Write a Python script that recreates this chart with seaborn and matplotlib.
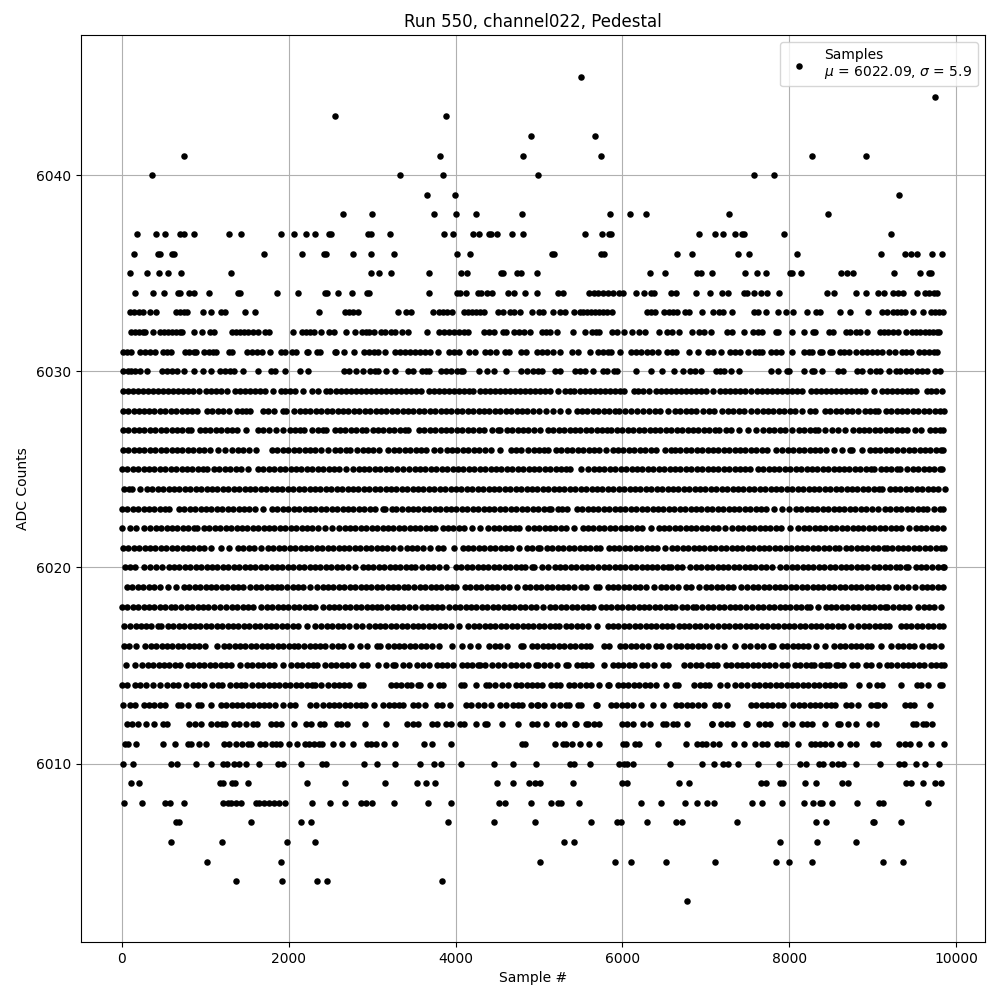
import pandas as pd
import seaborn as sns
import matplotlib.pyplot as plt

# sample positions, one list per ADC level
x_6045 = [5508]
x_6044 = [9746]
x_6043 = [2554, 3886]
x_6042 = [4906, 5676]
x_6041 = [742, 3814, 4810, 5748, 8273, 8920]
x_6040 = [358, 3334, 3850, 4986, 7579, 7819]
x_6039 = [3658, 3994, 9315]
x_6038 = [2650, 2998, 3742, 4006, 4246, 4798, 5856, 6095, 6287, 7280, 8465]
x_6037 = [178, 406, 514, 702, 742, 862, 1282, 1426, 1906, 2062, 2206, 2314, 2478, 2510, 2950, 2982, 3214, 3862, 3970,
          4210, 4282, 4402, 4430, 4502, 4678, 4810, 5556, 5760, 5836, 5864, 6921, 7112, 7208, 7352, 7432, 7460, 7938, 9219]
x_6036 = [142, 438, 462, 606, 630, 1702, 2158, 2422, 2450, 2770, 2986, 3262, 4018, 4174, 5153, 5177, 5748, 5776, 6658,
          6837, 7388, 7520, 8094, 9100, 9387, 9459, 9531, 9710, 9830]
x_6035 = [94, 298, 442, 550, 706, 1306, 2986, 3082, 3226, 3682, 4066, 4142, 4538, 4570, 4730, 4782, 4974, 6334, 6514,
          6897, 6945, 7077, 7472, 7615, 7723, 8006, 8030, 8142, 8621, 8692, 8764, 9255, 9566, 9674, 9702]
x_6034 = [154, 370, 502, 670, 694, 802, 862, 1042, 1390, 1410, 1858, 2110, 2430, 2462, 2590, 2758, 2934, 2958, 3682,
          4018, 4054, 4126, 4270, 4306, 4382, 4438, 4630, 4702, 4834, 4974, 5233, 5293, 5604, 5664, 5712, 5772, 5832,
          5884, 5955, 6011, 6167, 6263, 6346, 6374, 6586, 6642, 6885, 7053, 7196, 7268, 7460, 7496, 7579, 7663, 7735,
          7879, 8453, 8537, 8800, 8920, 9064, 9136, 9243, 9303, 9363, 9530, 9626, 9674, 9734, 9770]
x_6033 = [94, 142, 202, 250, 334, 406, 646, 694, 742, 778, 970, 1066, 1186, 1234, 1474, 1594, 2362, 2674, 2722, 2770,
          2830, 3310, 3406, 3466, 3730, 3802, 3850, 3902, 3962, 4102, 4150, 4198, 4246, 4294, 4342, 4510, 4562, 4654,
          4702, 4774, 4914, 5002, 5045, 5165, 5257, 5317, 5413, 5485, 5532, 5580, 5628, 5676, 5724, 5772, 5820, 5880,
          6298, 6346, 6390, 6502, 6562, 6610, 6658, 6754, 6802, 6957, 7089, 7160, 7208, 7316, 7579, 7627, 7723, 7867,
          7962, 8046, 8214, 8322, 8370, 8609, 8729, 8944, 9112, 9172, 9243, 9291, 9339, 9387, 9483, 9602, 9698, 9746,
          9794, 9842]
x_6032 = [106, 154, 202, 250, 282, 370, 454, 502, 550, 598, 646, 694, 722, 862, 958, 1054, 1102, 1318, 1366, 1414,
          1462, 1510, 1570, 1630, 1714, 1762, 2050, 2158, 2206, 2254, 2302, 2382, 2482, 2542, 2686, 2794, 2882, 2930,
          2962, 3022, 3102, 3150, 3222, 3270, 3354, 3430, 3658, 3802, 3862, 3922, 3982, 4042, 4102, 4150, 4342, 4402,
          4462, 4562, 4602, 4702, 4762, 4822, 4894, 5034, 5081, 5133, 5221, 5401, 5556, 5640, 5680, 5724, 5880, 5940,
          6023, 6119, 6203, 6270, 6442, 6538, 6590, 6682, 6837, 6921, 6981, 7065, 7256, 7316, 7460, 7567, 7627, 7675,
          7840, 7868, 8034, 8178, 8285, 8310, 8477, 8525, 8676, 8724, 8796, 8844, 8932, 9088, 9136, 9184, 9243, 9303,
          9399, 9474, 9522, 9570, 9626, 9674, 9722, 9770, 9794]
x_6031 = [12, 62, 112, 220, 275, 335, 392, 492, 545, 592, 752, 810, 860, 892, 980, 1040, 1095, 1132, 1284, 1320, 1504,
          1560, 1620, 1680, 1772, 1904, 1952, 2044, 2092, 2220, 2232, 2340, 2372, 2552, 2572, 2662, 2778, 2904, 2960,
          3020, 3072, 3154, 3272, 3330, 3390, 3450, 3510, 3570, 3630, 3690, 3784, 3920, 3980, 4040, 4160, 4232, 4352,
          4410, 4484, 4592, 4640, 4784, 4844, 4972, 5030, 5090, 5163, 5253, 5395, 5471, 5616, 5710, 5770, 5830, 5862,
          5971, 6101, 6160, 6220, 6290, 6350, 6420, 6532, 6590, 6640, 6800, 6907, 7030, 7090, 7186, 7286, 7350, 7410,
          7507, 7590, 7640, 7677, 7781, 7840, 7897, 8030, 8176, 8230, 8276, 8368, 8396, 8488, 8515, 8603, 8660, 8720,
          8794, 8874, 8930, 8990, 9050, 9110, 9193, 9271, 9345, 9400, 9460, 9552, 9610, 9670, 9730, 9764]
x_6030 = [12, 70, 104, 160, 220, 304, 480, 540, 600, 660, 744, 862, 970, 1070, 1172, 1230, 1290, 1344, 1446, 1630, 1792,
          1832, 1954, 2132, 2232, 2664, 2720, 2812, 2890, 2972, 3030, 3072, 3166, 3274, 3432, 3492, 3592, 3650, 3684,
          3820, 3880, 3940, 4012, 4070, 4092, 4282, 4372, 4464, 4602, 4784, 4852, 4932, 4992, 5032, 5191, 5251, 5431,
          5490, 5550, 5642, 5764, 5820, 5902, 5933, 6159, 6340, 6468, 6618, 6721, 6807, 6870, 6939, 7119, 7170, 7218,
          7300, 7400, 7775, 7859, 7968, 7996, 8178, 8268, 8296, 8393, 8587, 8646, 8814, 8870, 8966, 9034, 9090, 9193,
          9273, 9330, 9400, 9453, 9532, 9590, 9644, 9740, 9800]
x_6029 = [12, 70, 130, 190, 250, 310, 370, 430, 490, 550, 610, 670, 730, 790, 850, 924, 1012, 1070, 1130, 1190, 1260,
          1360, 1420, 1480, 1540, 1600, 1660, 1720, 1812, 1904, 1960, 2020, 2080, 2172, 2280, 2352, 2452, 2492, 2572,
          2630, 2690, 2750, 2810, 2870, 2930, 2990, 3050, 3110, 3170, 3230, 3290, 3350, 3410, 3470, 3530, 3584, 3680,
          3740, 3800, 3860, 3920, 3980, 4040, 4100, 4160, 4212, 4292, 4350, 4410, 4470, 4530, 4590, 4650, 4710, 4770,
          4830, 4890, 4950, 5010, 5070, 5130, 5231, 5311, 5370, 5423, 5495, 5555, 5615, 5675, 5735, 5795, 5855, 5915,
          5975, 6021, 6133, 6190, 6250, 6320, 6400, 6460, 6520, 6580, 6640, 6700, 6760, 6820, 6880, 6940, 7000, 7086,
          7166, 7226, 7286, 7346, 7406, 7466, 7545, 7617, 7677, 7737, 7797, 7857, 7917, 7977, 8037, 8097, 8156, 8256,
          8316, 8376, 8436, 8496, 8556, 8616, 8676, 8736, 8796, 8856, 8902, 9016, 9106, 9166, 9226, 9286, 9346, 9406,
          9453, 9522, 9644, 9700, 9760, 9832]
x_6028 = [12, 75, 140, 200, 265, 330, 390, 455, 520, 585, 650, 715, 780, 845, 904, 1020, 1085, 1150, 1215, 1280, 1380,
          1445, 1490, 1532, 1692, 1755, 1824, 1932, 1972, 2064, 2130, 2195, 2260, 2325, 2390, 2455, 2520, 2585, 2650,
          2715, 2780, 2845, 2910, 2975, 3040, 3105, 3170, 3235, 3300, 3365, 3430, 3495, 3560, 3625, 3690, 3755, 3820,
          3885, 3950, 4015, 4080, 4145, 4210, 4275, 4340, 4405, 4470, 4535, 4600, 4665, 4730, 4795, 4860, 4924, 4996,
          5084, 5163, 5251, 5351, 5451, 5515, 5580, 5645, 5710, 5775, 5840, 5905, 5961, 6033, 6100, 6170, 6240, 6320,
          6385, 6450, 6540, 6628, 6695, 6760, 6825, 6879, 6971, 7040, 7098, 7198, 7265, 7330, 7395, 7460, 7537, 7617,
          7680, 7745, 7810, 7875, 7940, 8005, 8070, 8156, 8248, 8308, 8427, 8490, 8555, 8620, 8685, 8750, 8822, 8902,
          8965, 9030, 9066, 9154, 9220, 9285, 9350, 9415, 9480, 9545, 9610, 9675, 9740, 9805, 9852]
x_6027 = [12, 75, 140, 205, 270, 335, 400, 465, 530, 595, 660, 725, 790, 824, 932, 995, 1060, 1125, 1190, 1255, 1320,
          1385, 1484, 1632, 1695, 1760, 1852, 1932, 2012, 2075, 2140, 2184, 2280, 2345, 2410, 2452, 2552, 2615, 2680,
          2745, 2810, 2875, 2924, 3004, 3070, 3135, 3200, 3265, 3330, 3395, 3432, 3560, 3625, 3690, 3755, 3820, 3885,
          3950, 4015, 4080, 4145, 4210, 4275, 4340, 4432, 4512, 4532, 4612, 4677, 4742, 4807, 4872, 4937, 5016, 5104,
          5170, 5235, 5300, 5365, 5430, 5495, 5560, 5625, 5690, 5755, 5820, 5862, 5933, 6000, 6065, 6130, 6195, 6260,
          6325, 6390, 6455, 6520, 6585, 6650, 6715, 6780, 6845, 6910, 6975, 7040, 7105, 7158, 7238, 7300, 7402, 7510,
          7597, 7689, 7755, 7820, 7885, 7950, 8036, 8116, 8180, 8245, 8310, 8343, 8429, 8507, 8583, 8673, 8766, 8830,
          8895, 8960, 9025, 9090, 9155, 9220, 9285, 9350, 9415, 9501, 9578, 9680, 9745, 9810, 9844]
x_6026 = [12, 75, 140, 205, 270, 335, 400, 465, 530, 595, 660, 725, 790, 855, 920, 985, 1052, 1152, 1232, 1324, 1390,
          1455, 1520, 1604, 1800, 1865, 1930, 1995, 2060, 2125, 2190, 2255, 2320, 2385, 2472, 2552, 2617, 2682, 2732,
          2820, 2885, 2950, 3015, 3080, 3184, 3260, 3325, 3390, 3455, 3520, 3585, 3650, 3744, 3814, 3892, 3957, 4022,
          4087, 4152, 4217, 4282, 4347, 4424, 4530, 4660, 4725, 4784, 4872, 4935, 4998, 5060, 5111, 5203, 5268, 5333,
          5398, 5463, 5528, 5593, 5658, 5723, 5802, 5882, 5947, 6012, 6077, 6142, 6207, 6272, 6337, 6402, 6508, 6580,
          6625, 6687, 6759, 6824, 6889, 6954, 7019, 7084, 7149, 7214, 7279, 7344, 7409, 7474, 7539, 7604, 7669, 7734,
          7837, 7917, 7982, 8047, 8112, 8177, 8242, 8307, 8372, 8437, 8535, 8633, 8722, 8754, 8872, 8962, 9027, 9092,
          9157, 9222, 9293, 9365, 9430, 9495, 9560, 9625, 9684, 9752, 9817, 9844]
x_6025 = [0, 65, 130, 195, 260, 325, 390, 452, 520, 585, 650, 715, 780, 845, 910, 975, 1024, 1104, 1170, 1235, 1300,
          1365, 1432, 1514, 1632, 1697, 1762, 1827, 1892, 1957, 2022, 2087, 2152, 2217, 2282, 2347, 2412, 2477, 2542,
          2607, 2692, 2772, 2837, 2902, 2967, 3032, 3097, 3162, 3227, 3292, 3372, 3444, 3509, 3574, 3639, 3704, 3769,
          3834, 3899, 3964, 4029, 4094, 4159, 4224, 4289, 4354, 4419, 4484, 4549, 4614, 4679, 4744, 4809, 4874, 4939,
          5004, 5069, 5134, 5199, 5264, 5329, 5375, 5503, 5582, 5654, 5719, 5784, 5849, 5914, 5979, 6044, 6109, 6174,
          6239, 6304, 6369, 6434, 6499, 6564, 6629, 6694, 6759, 6824, 6889, 6954, 7019, 7084, 7149, 7214, 7279, 7344,
          7409, 7474, 7529, 7621, 7686, 7751, 7816, 7881, 7946, 8011, 8076, 8141, 8206, 8271, 8336, 8401, 8466, 8531,
          8596, 8661, 8714, 8786, 8851, 8916, 8981, 9014, 9094, 9159, 9224, 9289, 9325, 9413, 9478, 9543, 9608, 9673,
          9738, 9803, 9832]
x_6024 = [20, 85, 118, 212, 300, 365, 430, 495, 560, 625, 690, 755, 820, 885, 950, 1015, 1080, 1145, 1210, 1275, 1340,
          1405, 1470, 1535, 1600, 1665, 1730, 1795, 1860, 1925, 1990, 2055, 2120, 2185, 2250, 2315, 2380, 2445, 2510,
          2575, 2640, 2705, 2770, 2835, 2900, 2965, 3030, 3095, 3160, 3225, 3290, 3355, 3420, 3485, 3550, 3615, 3680,
          3745, 3810, 3875, 3940, 4005, 4070, 4135, 4200, 4265, 4330, 4395, 4460, 4525, 4590, 4655, 4720, 4785, 4850,
          4915, 4980, 5045, 5110, 5175, 5240, 5305, 5370, 5435, 5500, 5565, 5630, 5695, 5760, 5825, 5890, 5955, 6020,
          6085, 6150, 6215, 6280, 6345, 6410, 6475, 6540, 6605, 6670, 6735, 6800, 6865, 6930, 6995, 7060, 7125, 7190,
          7255, 7320, 7385, 7450, 7515, 7580, 7645, 7710, 7775, 7840, 7905, 7970, 8035, 8100, 8165, 8230, 8295, 8360,
          8425, 8490, 8555, 8620, 8685, 8750, 8815, 8880, 8945, 9010, 9075, 9113, 9201, 9266, 9331, 9396, 9461, 9526,
          9591, 9656, 9721, 9786, 9860]
x_6023 = [0, 65, 130, 195, 260, 325, 390, 455, 520, 560, 684, 749, 814, 879, 944, 1009, 1074, 1139, 1204, 1269, 1334,
          1399, 1464, 1529, 1594, 1692, 1800, 1865, 1930, 1995, 2060, 2125, 2190, 2255, 2320, 2385, 2450, 2515, 2580,
          2645, 2710, 2775, 2840, 2905, 2970, 3032, 3132, 3152, 3236, 3284, 3360, 3425, 3490, 3555, 3620, 3685, 3750,
          3815, 3880, 3945, 4010, 4075, 4140, 4205, 4270, 4335, 4400, 4465, 4530, 4595, 4660, 4725, 4790, 4855, 4924,
          4989, 5054, 5119, 5143, 5233, 5271, 5331, 5451, 5516, 5581, 5646, 5711, 5776, 5841, 5906, 5971, 6036, 6101,
          6166, 6231, 6296, 6361, 6426, 6491, 6556, 6621, 6686, 6751, 6816, 6881, 6946, 7011, 7076, 7141, 7206, 7271,
          7336, 7401, 7466, 7531, 7596, 7661, 7726, 7817, 7908, 7996, 8076, 8141, 8206, 8271, 8336, 8401, 8466, 8531,
          8596, 8661, 8726, 8791, 8856, 8921, 8994, 9064, 9146, 9211, 9276, 9341, 9406, 9471, 9536, 9601, 9644, 9736,
          9800, 9844]
x_6022 = [0, 92, 172, 264, 340, 405, 470, 535, 600, 665, 730, 795, 860, 900, 984, 1049, 1114, 1179, 1244, 1309, 1374,
          1439, 1504, 1569, 1634, 1699, 1764, 1829, 1894, 1959, 2024, 2089, 2154, 2219, 2284, 2349, 2432, 2522, 2604,
          2669, 2734, 2799, 2864, 2929, 2994, 3059, 3124, 3189, 3254, 3319, 3384, 3449, 3514, 3579, 3644, 3709, 3752,
          3844, 3909, 3974, 4039, 4104, 4200, 4294, 4392, 4457, 4522, 4587, 4652, 4717, 4760, 4872, 4937, 5002, 5067,
          5132, 5197, 5262, 5327, 5423, 5522, 5587, 5652, 5717, 5782, 5847, 5912, 5977, 6042, 6107, 6172, 6237, 6340,
          6432, 6497, 6562, 6627, 6692, 6757, 6822, 6887, 6952, 7017, 7082, 7147, 7226, 7318, 7383, 7448, 7513, 7578,
          7643, 7708, 7773, 7838, 7903, 8008, 8108, 8173, 8238, 8303, 8368, 8433, 8498, 8563, 8628, 8693, 8758, 8823,
          8888, 8953, 9018, 9083, 9148, 9213, 9278, 9343, 9433, 9513, 9578, 9643, 9708, 9773, 9844]
x_6021 = [12, 77, 142, 207, 272, 337, 402, 467, 532, 597, 662, 727, 792, 857, 922, 987, 1072, 1192, 1280, 1392, 1457,
          1522, 1587, 1672, 1752, 1817, 1882, 1947, 2012, 2077, 2142, 2207, 2272, 2337, 2402, 2467, 2532, 2597, 2662,
          2727, 2792, 2857, 2922, 2987, 3052, 3117, 3182, 3247, 3332, 3412, 3477, 3542, 3607, 3692, 3784, 3849, 3984,
          4084, 4149, 4214, 4279, 4344, 4409, 4474, 4539, 4604, 4669, 4760, 4852, 4917, 4982, 5016, 5096, 5161, 5226,
          5291, 5356, 5421, 5486, 5551, 5616, 5681, 5734, 5834, 5899, 5964, 6029, 6094, 6159, 6224, 6289, 6354, 6419,
          6512, 6592, 6657, 6722, 6787, 6852, 6917, 6982, 7047, 7112, 7177, 7242, 7307, 7372, 7437, 7502, 7567, 7632,
          7697, 7762, 7827, 7892, 7957, 8022, 8087, 8152, 8217, 8282, 8347, 8412, 8477, 8542, 8595, 8675, 8740, 8805,
          8870, 8935, 9000, 9065, 9130, 9165, 9233, 9298, 9363, 9428, 9493, 9558, 9623, 9688, 9753, 9818, 9852]
x_6020 = [32, 97, 162, 264, 340, 405, 480, 560, 625, 690, 755, 820, 885, 950, 1015, 1080, 1145, 1210, 1275, 1340, 1405,
          1470, 1535, 1600, 1665, 1730, 1795, 1860, 1925, 1990, 2055, 2120, 2185, 2250, 2315, 2380, 2445, 2510, 2575,
          2640, 2705, 2792, 2884, 2949, 3014, 3079, 3144, 3209, 3274, 3339, 3404, 3469, 3512, 3600, 3665, 3730, 3795,
          3880, 4004, 4069, 4134, 4199, 4264, 4329, 4394, 4459, 4524, 4589, 4654, 4719, 4784, 4832, 4912, 4944, 5032,
          5111, 5187, 5252, 5317, 5382, 5447, 5512, 5577, 5630, 5710, 5775, 5840, 5905, 5970, 6035, 6100, 6165, 6230,
          6292, 6352, 6417, 6482, 6547, 6580, 6652, 6717, 6811, 6879, 6944, 7009, 7074, 7139, 7204, 7269, 7334, 7399,
          7464, 7529, 7594, 7659, 7724, 7789, 7888, 7964, 8029, 8094, 8159, 8224, 8289, 8354, 8419, 8484, 8549, 8614,
          8679, 8744, 8809, 8874, 8934, 9014, 9079, 9144, 9209, 9274, 9325, 9393, 9421, 9513, 9578, 9640, 9712, 9777,
          9842, 9852]
x_6019 = [60, 125, 190, 255, 320, 385, 460, 550, 650, 744, 809, 874, 939, 1004, 1069, 1134, 1199, 1264, 1329, 1394,
          1452, 1540, 1605, 1670, 1735, 1800, 1865, 1912, 1980, 2045, 2110, 2175, 2260, 2340, 2405, 2470, 2535, 2600,
          2665, 2730, 2795, 2860, 2925, 2990, 3055, 3120, 3185, 3250, 3315, 3380, 3432, 3504, 3569, 3634, 3699, 3764,
          3829, 3894, 3959, 4000, 4112, 4177, 4242, 4307, 4372, 4437, 4492, 4572, 4637, 4732, 4832, 4897, 4962, 5027,
          5092, 5157, 5222, 5287, 5352, 5415, 5500, 5564, 5682, 5714, 5822, 5887, 5952, 6017, 6082, 6147, 6212, 6277,
          6372, 6460, 6525, 6590, 6660, 6759, 6824, 6919, 6999, 7064, 7129, 7194, 7259, 7324, 7426, 7498, 7563, 7628,
          7693, 7758, 7823, 7888, 7953, 8018, 8083, 8148, 8213, 8278, 8343, 8408, 8473, 8538, 8603, 8668, 8733, 8798,
          8863, 8928, 8993, 9058, 9123, 9188, 9273, 9351, 9421, 9505, 9584, 9649, 9714, 9779, 9844]
x_6018 = [0, 65, 130, 195, 260, 325, 390, 455, 520, 585, 632, 712, 777, 842, 907, 972, 1037, 1102, 1172, 1252, 1317,
          1382, 1447, 1512, 1572, 1672, 1737, 1802, 1867, 1932, 1997, 2062, 2127, 2192, 2257, 2312, 2412, 2477, 2542,
          2607, 2672, 2737, 2802, 2867, 2932, 2997, 3062, 3104, 3180, 3245, 3310, 3375, 3440, 3512, 3592, 3657, 3722,
          3772, 3834, 3924, 3989, 4054, 4119, 4184, 4249, 4314, 4379, 4444, 4509, 4574, 4639, 4704, 4769, 4834, 4899,
          4964, 5051, 5131, 5196, 5261, 5326, 5391, 5456, 5521, 5586, 5642, 5738, 5803, 5868, 5933, 5998, 6063, 6128,
          6193, 6258, 6323, 6388, 6453, 6518, 6583, 6632, 6712, 6777, 6842, 6879, 6959, 7024, 7089, 7154, 7219, 7284,
          7349, 7414, 7486, 7557, 7622, 7687, 7752, 7817, 7882, 7947, 8012, 8077, 8142, 8207, 8248, 8345, 8435, 8500,
          8565, 8630, 8695, 8760, 8825, 8890, 8955, 9020, 9085, 9150, 9173, 9245, 9310, 9375, 9433, 9544, 9609, 9674,
          9739, 9820]
x_6017 = [22, 100, 165, 230, 295, 352, 432, 472, 552, 617, 682, 747, 812, 877, 942, 1007, 1072, 1137, 1202, 1267, 1332,
          1397, 1462, 1527, 1592, 1657, 1722, 1787, 1852, 1917, 1982, 2047, 2112, 2220, 2310, 2392, 2457, 2522, 2587,
          2652, 2717, 2812, 2874, 2964, 3029, 3094, 3159, 3224, 3289, 3354, 3419, 3484, 3549, 3614, 3679, 3744, 3809,
          3874, 3939, 4044, 4152, 4217, 4282, 4347, 4412, 4477, 4542, 4607, 4672, 4737, 4802, 4867, 4932, 4997, 5062,
          5127, 5192, 5235, 5323, 5388, 5453, 5518, 5583, 5690, 5822, 5887, 5952, 6017, 6082, 6147, 6212, 6277, 6342,
          6407, 6472, 6537, 6588, 6672, 6737, 6802, 6867, 6932, 6997, 7078, 7150, 7215, 7280, 7345, 7410, 7475, 7540,
          7605, 7670, 7735, 7800, 7865, 7930, 7995, 8060, 8125, 8190, 8255, 8320, 8385, 8450, 8515, 8580, 8645, 8734,
          8826, 8891, 8956, 9021, 9086, 9151, 9193, 9333, 9398, 9463, 9528, 9593, 9658, 9723, 9788, 9844]
x_6016 = [20, 85, 172, 280, 345, 410, 475, 540, 605, 670, 735, 800, 865, 930, 992, 1138, 1220, 1285, 1350, 1415, 1480,
          1545, 1610, 1675, 1740, 1805, 1870, 1935, 2000, 2065, 2112, 2184, 2249, 2314, 2379, 2432, 2524, 2589, 2654,
          2752, 2854, 2934, 3052, 3092, 3192, 3257, 3322, 3387, 3452, 3517, 3582, 3647, 3712, 3800, 3952, 4080, 4174,
          4270, 4404, 4469, 4532, 4618, 4780, 4812, 4912, 4977, 5042, 5107, 5172, 5237, 5302, 5367, 5432, 5497, 5562,
          5610, 5780, 5844, 5970, 6035, 6100, 6165, 6230, 6300, 6400, 6465, 6560, 6640, 6705, 6770, 6835, 6900, 6965,
          7039, 7130, 7218, 7346, 7458, 7527, 7607, 7679, 7777, 7805, 7908, 7973, 8038, 8103, 8168, 8224, 8316, 8427,
          8539, 8604, 8669, 8734, 8799, 8864, 8929, 8974, 9094, 9213, 9303, 9363, 9431, 9495, 9590, 9672, 9737, 9820]
x_6015 = [46, 154, 244, 309, 374, 439, 504, 569, 634, 692, 792, 857, 922, 987, 1052, 1117, 1182, 1247, 1312, 1412, 1500,
          1565, 1630, 1695, 1760, 1825, 1932, 2032, 2097, 2162, 2227, 2292, 2340, 2440, 2505, 2570, 2635, 2700, 2765,
          2872, 2938, 3064, 3164, 3252, 3272, 3372, 3444, 3532, 3612, 3682, 3772, 3837, 3902, 3972, 4072, 4137, 4202,
          4267, 4292, 4350, 4432, 4512, 4582, 4660, 4725, 4792, 4862, 4960, 4992, 5064, 5129, 5211, 5323, 5351, 5455,
          5520, 5562, 5628, 5784, 5882, 5947, 6012, 6077, 6141, 6233, 6298, 6380, 6488, 6540, 6740, 6812, 6879, 6937,
          7019, 7084, 7138, 7238, 7303, 7368, 7433, 7498, 7563, 7628, 7693, 7758, 7823, 7916, 7974, 8064, 8129, 8194,
          8259, 8296, 8375, 8440, 8475, 8563, 8583, 8645, 8746, 8814, 8914, 8974, 9076, 9174, 9213, 9293, 9358, 9423,
          9488, 9553, 9612, 9692, 9757, 9822, 9852]
x_6014 = [0, 65, 152, 214, 292, 372, 462, 544, 609, 674, 772, 852, 917, 984, 1084, 1149, 1200, 1300, 1365, 1430, 1480,
          1564, 1629, 1694, 1759, 1824, 1889, 1954, 2019, 2084, 2149, 2214, 2279, 2312, 2386, 2472, 2537, 2602, 2667,
          2720, 2852, 2892, 3220, 3285, 3350, 3415, 3464, 3552, 3572, 3698, 3800, 3852, 4060, 4100, 4246, 4360, 4400,
          4478, 4560, 4630, 4720, 4785, 4850, 4915, 4980, 5032, 5143, 5208, 5255, 5355, 5420, 5485, 5562, 5628, 5720,
          5822, 5842, 5942, 6007, 6072, 6137, 6202, 6267, 6332, 6400, 6526, 6632, 6660, 6859, 6924, 6989, 7039, 7164,
          7258, 7350, 7415, 7497, 7577, 7642, 7707, 7772, 7837, 7902, 7967, 8032, 8097, 8162, 8227, 8292, 8357, 8422,
          8487, 8552, 8617, 8654, 8840, 8954, 9046, 9116, 9343, 9532, 9572, 9662, 9800, 9832]
x_6013 = [10, 92, 160, 260, 325, 390, 455, 512, 672, 712, 794, 912, 952, 1074, 1184, 1249, 1314, 1379, 1444, 1509, 1574,
          1639, 1704, 1769, 1834, 1932, 2014, 2078, 2254, 2322, 2412, 2477, 2542, 2607, 2672, 2737, 2802, 2867, 2912,
          3022, 3132, 3197, 3262, 3327, 3372, 3484, 3552, 3630, 3772, 3837, 3932, 4124, 4189, 4272, 4342, 4430, 4532,
          4600, 4684, 4749, 4792, 4908, 4973, 4992, 5063, 5163, 5255, 5320, 5363, 5463, 5502, 5682, 5694, 5862, 5927,
          5992, 6057, 6121, 6219, 6368, 6480, 6640, 6705, 6770, 6835, 6900, 6979, 7111, 7158, 7256, 7537, 7602, 7667,
          7732, 7797, 7862, 7928, 8048, 8113, 8178, 8243, 8308, 8373, 8438, 8503, 8543, 8675, 8740, 8822, 8974, 9039,
          9066, 9136, 9385, 9450, 9492, 9686]
x_6012 = [60, 125, 190, 292, 382, 494, 542, 804, 872, 950, 1072, 1137, 1202, 1240, 1344, 1409, 1492, 1574, 1622, 1784,
          1849, 1912, 2062, 2206, 2262, 2370, 2422, 2580, 2624, 2702, 2910, 3166, 3420, 3485, 3544, 3712, 3772, 3890,
          3942, 4052, 4100, 4246, 4350, 4382, 4550, 4750, 4920, 4972, 5081, 5229, 5305, 5431, 5443, 5562, 5592, 5660,
          5724, 5993, 6058, 6121, 6251, 6334, 6480, 6518, 6610, 6658, 6777, 7071, 7078, 7176, 7248, 7316, 7478, 7490,
          7639, 7707, 7771, 7946, 8026, 8148, 8213, 8276, 8429, 8587, 8607, 8697, 8804, 8956, 9044, 9483, 9522, 9602,
          9642, 9710]
x_6011 = [42, 70, 170, 490, 634, 790, 830, 926, 1006, 1222, 1282, 1366, 1438, 1510, 1542, 1654, 1714, 1802, 1850, 1894,
          2002, 2098, 2190, 2242, 2302, 2362, 2394, 2530, 2642, 2770, 2934, 2982, 3046, 3142, 3274, 3622, 3718, 3946,
          4790, 4830, 5189, 5293, 5325, 5393, 5485, 5604, 5724, 6003, 6039, 6155, 6195, 6430, 6765, 6897, 6949, 6997,
          7089, 7160, 7332, 7460, 7591, 7675, 7727, 7847, 7907, 7958, 8106, 8254, 8306, 8365, 8425, 8501, 8609, 8732,
          8796, 9004, 9064, 9315, 9387, 9451, 9554, 9698, 9854]
x_6010 = [10, 130, 586, 658, 886, 1066, 1210, 1262, 1342, 1398, 1482, 1638, 1870, 1926, 2146, 2398, 2442, 2902, 3058,
          3274, 3574, 3742, 3826, 4066, 4462, 4690, 4962, 5365, 5413, 5616, 5963, 6023, 6059, 6131, 6574, 6957, 7100,
          7208, 7268, 7388, 7623, 7879, 8130, 8202, 8357, 8405, 8513, 8585, 8645, 8800, 9088, 9315, 9375, 9518, 9626,
          9794]
x_6009 = [106, 202, 1174, 1214, 1314, 1354, 1510, 2218, 2670, 3154, 3538, 3646, 3754, 4498, 4690, 4882, 4954, 5006,
          5401, 5999, 6055, 6682, 6802, 7663, 7723, 7887, 7919, 8182, 8322, 8633, 8705, 9399, 9459, 9602, 9746, 9818]
x_6008 = [22, 238, 514, 574, 742, 1210, 1270, 1310, 1366, 1426, 1606, 1642, 1702, 1762, 1822, 1882, 1954, 2278, 2494,
          2674, 2866, 2922, 2998, 3262, 3670, 3946, 4522, 4586, 4904, 5149, 5233, 5265, 5473, 6227, 6466, 6754, 6897,
          7017, 7100, 7555, 7675, 7915, 8178, 8285, 8365, 8397, 8513, 8812, 9072, 9124, 9662]
x_6007 = [646, 686, 1546, 2146, 2266, 3910, 4462, 4950, 5628, 5940, 5979, 6298, 6646, 6717, 7376, 8322, 8441, 9008,
          9020, 9343]
x_6006 = [586, 1198, 1978, 2314, 5305, 5413, 7891, 8333, 8800]
x_6005 = [1018, 1906, 5016, 5915, 6107, 6526, 7112, 7843, 7998, 8273, 9124, 9363]
x_6004 = [1366, 1918, 2338, 2458, 3838]
x_6003 = [6777]

adc_levels = [6045, 6044, 6043, 6042, 6041, 6040, 6039, 6038, 6037, 6036, 6035, 6034, 6033, 6032, 6031, 6030, 6029,
              6028, 6027, 6026, 6025, 6024, 6023, 6022, 6021, 6020, 6019, 6018, 6017, 6016, 6015, 6014, 6013, 6012,
              6011, 6010, 6009, 6008, 6007, 6006, 6005, 6004, 6003]
level_samples = [x_6045, x_6044, x_6043, x_6042, x_6041, x_6040, x_6039, x_6038, x_6037, x_6036, x_6035, x_6034, x_6033,
                 x_6032, x_6031, x_6030, x_6029, x_6028, x_6027, x_6026, x_6025, x_6024, x_6023, x_6022, x_6021, x_6020,
                 x_6019, x_6018, x_6017, x_6016, x_6015, x_6014, x_6013, x_6012, x_6011, x_6010, x_6009, x_6008, x_6007,
                 x_6006, x_6005, x_6004, x_6003]

rows = []
for level, samples in zip(adc_levels, level_samples):
    for s in samples:
        rows.append((s, level))
df = pd.DataFrame(rows, columns=['sample', 'adc'])

fig, ax = plt.subplots(figsize=(10, 10), dpi=100)
sns.scatterplot(data=df, x='sample', y='adc', ax=ax, color='black', marker='o', s=22, linewidth=0, zorder=3,
                label='Samples\n$\\mu$ = 6022.09, $\\sigma$ = 5.9')

ax.set_xlim(-490, 10345)
ax.set_ylim(6000.9, 6047.15)
ax.set_yticks([6010, 6020, 6030, 6040])
ax.ticklabel_format(axis='y', useOffset=False, style='plain')
ax.grid(True)
ax.set_title('Run 550, channel022, Pedestal')
ax.set_xlabel('Sample #')
ax.set_ylabel('ADC Counts')
ax.legend(loc='upper right')

# axes box
fig.subplots_adjust(left=0.081, right=0.985, top=0.965, bottom=0.058)
fig.savefig('out.png')
